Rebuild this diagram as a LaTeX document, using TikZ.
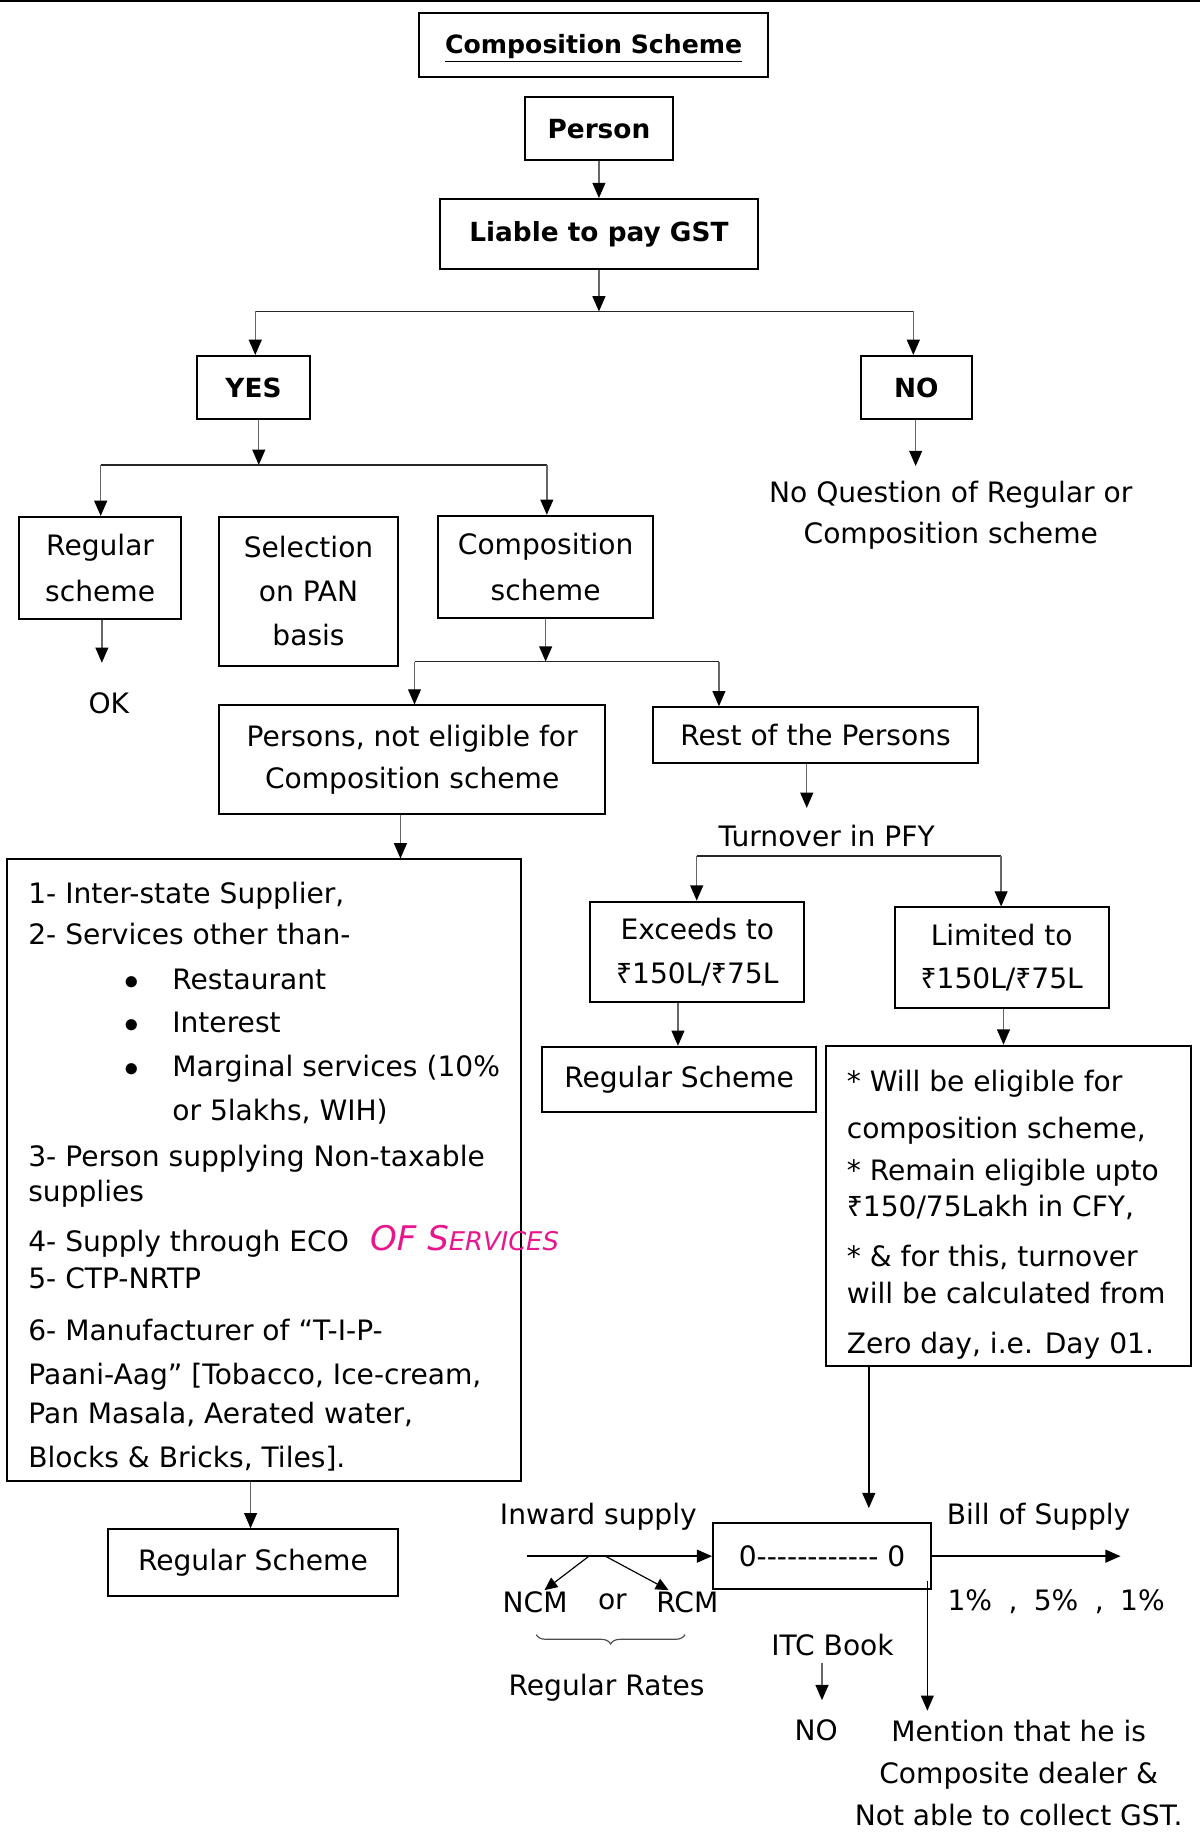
\documentclass[tikz,border=0pt]{standalone}
\usepackage{fontspec}
\setmainfont{DejaVu Sans}
\newfontfamily\rupeefont{Noto Sans}
\usetikzlibrary{arrows.meta,decorations.pathreplacing}
\newcommand\rs{{\rupeefont ₹}}
\definecolor{pinkink}{HTML}{E8168C}
\begin{document}
\begin{tikzpicture}[x=1pt,y=-1pt,
  every node/.style={inner sep=0pt},
  fs/.style={font=\fontsize{24}{#1}\selectfont},
  fs/.default=30,
  bfs/.style={font=\fontsize{22.5}{30}\selectfont\bfseries},
  box/.style={draw=black, line width=1.7pt, align=center},
  conn/.style={draw=black!60, line width=1.2pt},
  hline/.style={draw=black!85, line width=1.1pt},
  arr/.style={conn, -{Triangle[width=11pt,length=13pt,color=black]}},
  sarr/.style={draw=black, line width=1pt, -{Triangle[width=10pt,length=11pt,color=black]}},
  barr/.style={draw=black, line width=1.3pt, -{Triangle[width=11pt,length=13pt,color=black]}},
  lt/.style={fs, anchor=base west}]
\useasboundingbox (0,0) rectangle (1025,1568);
\draw[line width=1.6pt] (0,1) -- (1025,1);

% boxes
\node[box, font=\fontsize{21.5}{30}\selectfont\bfseries, text height=15pt, text depth=0pt, minimum width=298pt, minimum height=55pt] (title) at (507,38.5) {\underline{Composition Scheme}};
\node[box, bfs, minimum width=127pt, minimum height=54pt] (person) at (511.5,110) {Person};
\node[box, bfs, text height=16pt, text depth=3pt, minimum width=271pt, minimum height=60pt] (liable) at (511.5,200) {Liable to pay GST};
\node[box, bfs, minimum width=97pt, minimum height=54pt] (yes) at (216.5,331) {YES};
\node[box, bfs, minimum width=95pt, minimum height=54pt] (no) at (782.5,331) {NO};
\node[box, fs=39, minimum width=139pt, minimum height=87pt] (regular) at (85.5,485) {Regular\\scheme};
\node[box, fs=37.5, minimum width=153pt, minimum height=127pt] (selection) at (263.5,505) {Selection\\on PAN\\basis};
\node[box, fs=39, minimum width=184pt, minimum height=87pt] (comp) at (466,484) {Composition\\scheme};
\node[box, fs=36, minimum width=330pt, minimum height=93pt] (persons) at (352,649) {Persons, not eligible for\\Composition scheme};
\node[box, fs, minimum width=277pt, minimum height=48pt] (rest) at (696.5,628) {Rest of the Persons};
\node[box, fs=37, minimum width=183pt, minimum height=86pt] (exceeds) at (595.5,813) {Exceeds to\\\rs150L/\rs75L};
\node[box, fs=37, minimum width=183pt, minimum height=86pt] (limited) at (855.5,818) {Limited to\\\rs150L/\rs75L};
\node[box, fs, minimum width=234pt, minimum height=56pt] (regs2) at (580,922) {Regular Scheme};
\node[box, minimum width=312pt, minimum height=274pt] (rightbox) at (861,1030) {};
\node[box, minimum width=439pt, minimum height=531pt] (leftbox) at (225.5,999.5) {};
\node[box, fs, minimum width=248pt, minimum height=57pt] (regs3) at (216,1334.5) {Regular Scheme};
\node[box, fs, minimum width=186pt, minimum height=56pt] (zbox) at (702,1329) {0-{}-{}-{}-{}-{}-{}-{}-{}-{}-{}-{}- 0};

% left box text
\node[lt] (l1) at (24,772) {1- Inter-state Supplier,};
\node[lt] (l2) at (24,807) {2- Services other than-};
\node[lt] (b1) at (106,845) {$\bullet$};
\node[lt] (l3) at (147,845) {Restaurant};
\node[lt] (b2) at (106,882) {$\bullet$};
\node[lt] (l4) at (147,882) {Interest};
\node[lt] (b3) at (106,919) {$\bullet$};
\node[lt] (l5) at (147,919) {Marginal services (10\%};
\node[lt] (l6) at (147,957) {or 5lakhs, WIH)};
\node[lt] (l7) at (24,996) {3- Person supplying Non-taxable};
\node[lt] (l8) at (24,1026) {supplies};
\node[lt] (l9) at (24,1069) {4- Supply through ECO};
\node[lt] (l10) at (24,1100) {5- CTP-NRTP};
\node[lt] (l11) at (24,1145) {6- Manufacturer of “T-I-P-};
\node[lt] (l12) at (24,1182) {Paani-Aag” [Tobacco, Ice-cream,};
\node[lt] (l13) at (24,1216) {Pan Masala, Aerated water,};
\node[lt] (l14) at (24,1253) {Blocks \& Bricks, Tiles].};
\node[anchor=base west, text=pinkink, font=\fontsize{29}{30}\selectfont\itshape] (pink) at (316,1068) {OF S{\fontsize{22}{24}\selectfont ERVICES}};

% right box text
\node[lt] (r1) at (723,932) {* Will be eligible for};
\node[lt] (r2) at (723,972) {composition scheme,};
\node[lt] (r3) at (723,1008) {* Remain eligible upto};
\node[lt] (r4) at (723,1039) {\rs150/75Lakh in CFY,};
\node[lt] (r5) at (723,1082) {* \& for this, turnover};
\node[lt] (r6) at (723,1113) {will be calculated from};
\node[lt] (r7) at (723,1156) {Zero day, i.e. Day 01.};

% free texts
\node[fs] (ok) at (93,601) {OK};
\node[fs=35, align=center] (noq) at (812,440) {No Question of Regular or\\Composition scheme};
\node[fs] (turn) at (706,714) {Turnover in PFY};
\node[fs] (inward) at (511,1295) {Inward supply};
\node[fs] (bill) at (887,1295) {Bill of Supply};
\node[fs] (ncm) at (457,1368) {NCM};
\node[fs] (or) at (523,1368) {or};
\node[fs] (rcm) at (587,1368) {RCM};
\node[fs] (rates) at (518,1441) {Regular Rates};
\node[fs] (pct) at (902,1368) {1\%\hspace{14pt},\hspace{14pt}5\%\hspace{14pt},\hspace{14pt}1\%};
\node[fs] (itc) at (711,1405) {ITC Book};
\node[fs] (no2) at (697,1478) {NO};
\node[fs=36, align=center] (mention) at (870,1514) {Mention that he is\\Composite dealer \&\\Not able to collect GST.};

% junction coordinates
\coordinate (j1) at (511.5,266);
\coordinate (j1l) at (218,266);
\coordinate (j1r) at (780,266);
\coordinate (j2) at (221,397);
\coordinate (j2l) at (86,397);
\coordinate (j2r) at (467,397);
\coordinate (okp) at (87,566);
\coordinate (noqp) at (782,398);
\coordinate (j3) at (466,565);
\coordinate (j3l) at (354,565);
\coordinate (j3r) at (614,565);
\coordinate (turnp) at (689,690);
\coordinate (j4l) at (595,731);
\coordinate (j4r) at (855,731);
\coordinate (zin) at (742,1288);
\coordinate (inw) at (450,1329);
\coordinate (br1) at (503,1329);
\coordinate (br2) at (517,1329);
\coordinate (ncmp) at (465,1358);
\coordinate (rcmp) at (571,1358);
\coordinate (bos) at (957,1329);
\coordinate (ms) at (792,1350);
\coordinate (me) at (792,1461);
\coordinate (itcs) at (702,1420);
\coordinate (itce) at (702,1452);

% connectors
\draw[arr] (person.south) -- (liable.north);
\draw[arr] (liable.south) -- (j1);
\draw[hline] (j1l) -- (j1r);
\draw[arr] (j1l) -- (j1l |- yes.north);
\draw[arr] (j1r) -- (j1r |- no.north);
\draw[arr] (j2 |- yes.south) -- (j2);
\draw[hline] (j2l) -- (j2r);
\draw[arr] (j2l) -- (j2l |- regular.north);
\draw[arr] (j2r) -- (j2r |- comp.north);
\draw[arr] (okp |- regular.south) -- (okp);
\draw[arr] (noqp |- no.south) -- (noqp);
\draw[arr] (comp.south) -- (j3);
\draw[hline] (j3l) -- (j3r);
\draw[arr] (j3l) -- (j3l |- persons.north);
\draw[arr] (j3r) -- (j3r |- rest.north);
\draw[arr] (turnp |- rest.south) -- (turnp);
\draw[hline] (j4l) -- (j4r);
\draw[arr] (j4l) -- (j4l |- exceeds.north);
\draw[arr] (j4r) -- (j4r |- limited.north);
\draw[arr] (579,0 |- exceeds.south) -- (579,0 |- regs2.north);
\draw[arr] (857,0 |- limited.south) -- (857,0 |- rightbox.north);
\draw[arr] (342,0 |- persons.south) -- (342,0 |- leftbox.north);
\draw[arr] (214,0 |- leftbox.south) -- (214,0 |- regs3.north);
\draw[barr] (zin |- rightbox.south) -- (zin);
\draw[barr] (inw) -- (zbox.west);
\draw[sarr] (br1) -- (ncmp);
\draw[sarr] (br2) -- (rcmp);
\draw[barr] (zbox.east) -- (bos);
\draw[barr] (ms) -- (me);
\draw[arr] (itcs) -- (itce);
\draw[draw=black!70, line width=1pt, decorate, decoration={brace, amplitude=8pt, mirror}] (458,1396) -- (585,1396);
\end{tikzpicture}
\end{document}
